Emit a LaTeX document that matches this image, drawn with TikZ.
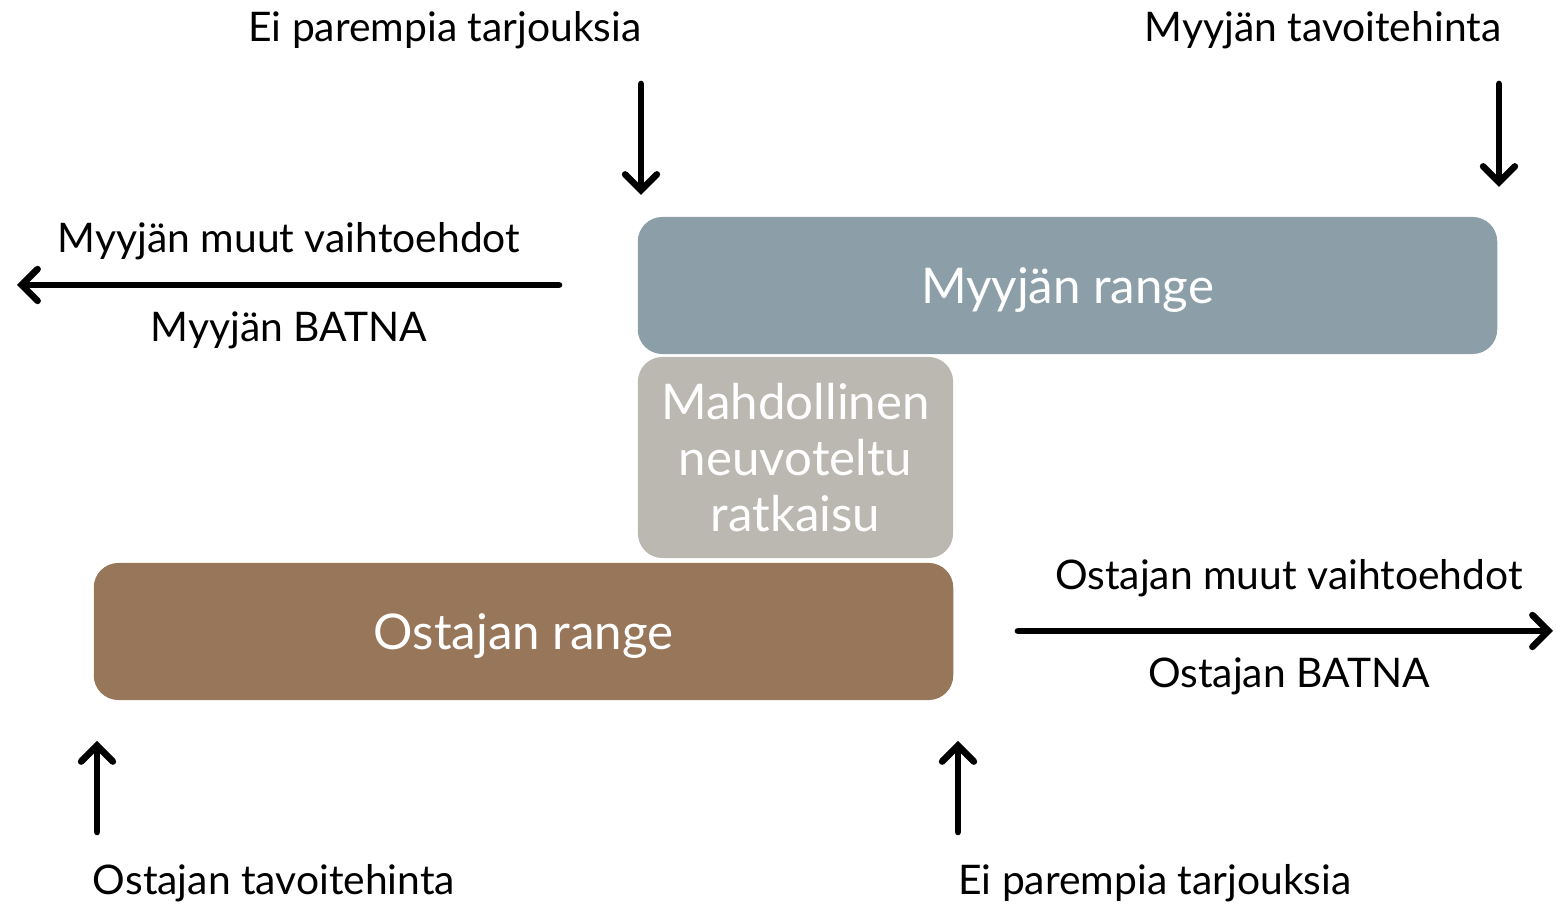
\documentclass[tikz,border=0pt]{standalone}
\usepackage{fontspec}
\setmainfont{Lato}
\usetikzlibrary{arrows.meta,positioning}
\definecolor{myyja}{HTML}{8C9FA8}
\definecolor{ratk}{HTML}{BBB7B1}
\definecolor{ostaja}{HTML}{97765A}
\tikzset{
  alue/.style  ={rounded corners=7pt,text=white,align=center,inner sep=0pt,
                 font=\fontsize{14}{17}\selectfont},
  lbl/.style   ={font=\fontsize{11.6}{13}\selectfont,inner sep=0pt,anchor=base},
  pil/.style   ={-{Straight Barb[length=4.5pt,width=9pt,line cap=round]},line width=1.9pt,line cap=round},
}
\begin{document}
\begin{tikzpicture}[x=0.01cm,y=-0.01cm]
  \useasboundingbox (0,0) rectangle (1556,907);
  % alueet
  \node[alue,fill=myyja,minimum width=8.59cm,minimum height=1.37cm,text depth=0pt] (myyjarange) at (1067.5,285.5) {Myyjän range};
  \node[alue,fill=ratk,minimum width=3.15cm,minimum height=2.01cm,font=\fontsize{14}{16}\selectfont]
        (ratkaisu) at (795.5,457.5) {Mahdollinen\\ neuvoteltu\\ ratkaisu};
  \node[alue,fill=ostaja,minimum width=8.59cm,minimum height=1.37cm,text depth=0pt] (ostajarange) at (523.5,631.5) {Ostajan range};

  % ylärivi
  \node[lbl] (eiyla) at (445,42) {Ei parempia tarjouksia};
  \node[lbl] (myyjahinta) at (1323,42) {Myyjän tavoitehinta};
  \coordinate (a1) at (641,84);  \coordinate (a2) at (641,195);
  \coordinate (b1) at (1499,84); \coordinate (b2) at (1499,187);
  \draw[pil] (a1) -- (a2);
  \draw[pil] (b1) -- (b2);

  % myyjän batna
  \node[lbl] (myyjamuut) at (289,253) {Myyjän muut vaihtoehdot};
  \node[lbl] (myyjabatna) at (289,342) {Myyjän BATNA};
  \coordinate (c1) at (559,285); \coordinate (c2) at (17,285);
  \draw[pil] (c1) -- (c2);

  % ostajan batna
  \node[lbl] (ostajamuut) at (1289,590) {Ostajan muut vaihtoehdot};
  \node[lbl] (ostajabatna) at (1289,688) {Ostajan BATNA};
  \coordinate (d1) at (1018,631); \coordinate (d2) at (1553,631);
  \draw[pil] (d1) -- (d2);

  % alarivi
  \coordinate (e1) at (97,832); \coordinate (e2) at (97,741);
  \coordinate (f1) at (958,832); \coordinate (f2) at (958,741);
  \draw[pil] (e1) -- (e2);
  \draw[pil] (f1) -- (f2);
  \node[lbl] (ostajahinta) at (274,895) {Ostajan tavoitehinta};
  \node[lbl] (eiala) at (1155,895) {Ei parempia tarjouksia};
\end{tikzpicture}
\end{document}
